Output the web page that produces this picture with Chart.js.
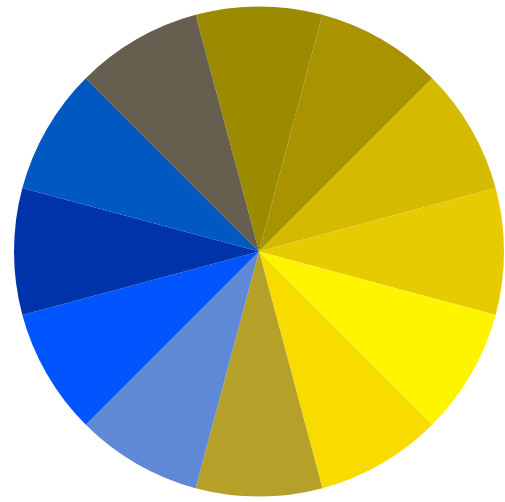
<!DOCTYPE html>
<html>
<head>
<meta charset="utf-8">
<script src="https://cdn.jsdelivr.net/npm/chart.js@4"></script>
<style>
  html, body { margin: 0; padding: 0; background: #fff; }
  #wrap { width: 505px; height: 502px; }
</style>
</head>
<body>
<div id="wrap"><canvas id="pie_chart"></canvas></div>
<script>
// slices clockwise from the top
const labels = ['A', 'B', 'C', 'D', 'E', 'F', 'G', 'H', 'I', 'J', 'K', 'L'];
const values = [1, 1, 1, 1, 1, 1, 1, 1, 1, 1, 1, 1];
const colors = [
    '#9c8b00',
    '#a99400',
    '#d4bb00',
    '#e5cb00',
    '#fff400',
    '#f8dc00',
    '#b5a02a',
    '#5f88d6',
    '#0055ff',
    '#0033aa',
    '#0058c2',
    '#665e4e',
];

const data = {
    labels: labels,
    datasets: [{
        data: values,
        backgroundColor: colors,
        borderWidth: 0,
    }]
};
const config = {
    type: 'pie',
    data: data,
    options: {
        responsive: true,
        maintainAspectRatio: false,
        animation: false,
        rotation: -15,
        layout: { padding: { left: 14, right: 1, top: 5, bottom: 4 } },
        plugins: {
            legend: { display: false },
            tooltip: { enabled: false },
        },
    }
};
new Chart(document.getElementById('pie_chart'), config);
</script>
</body>
</html>
